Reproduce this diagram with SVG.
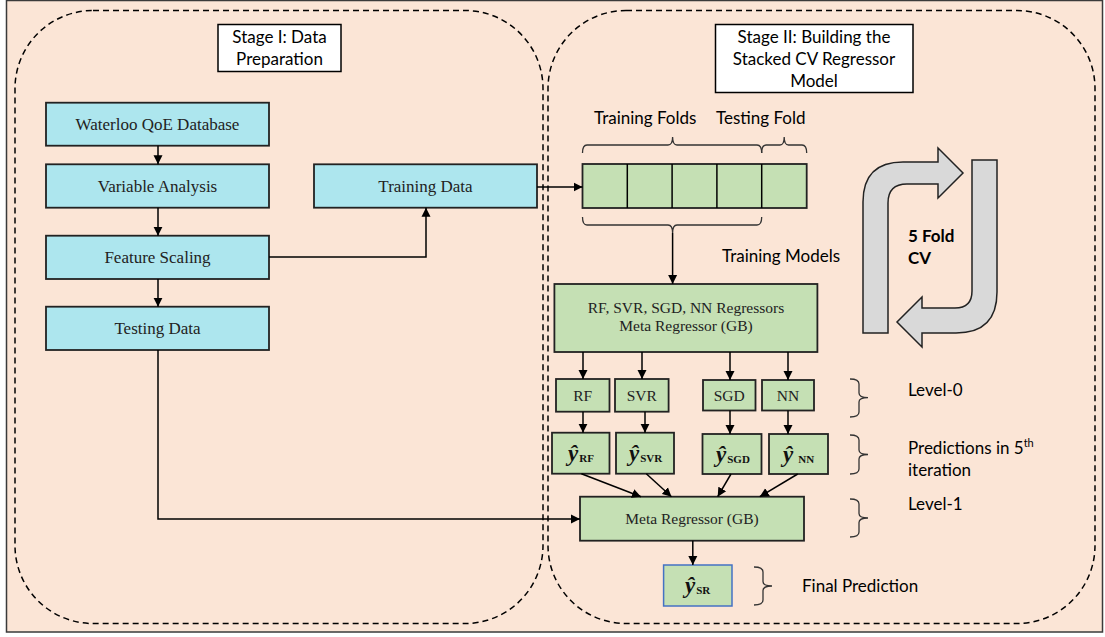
<svg xmlns="http://www.w3.org/2000/svg" width="1105" height="637" viewBox="0 0 1105 637">
<defs>
<marker id="ah" markerWidth="10" markerHeight="10" refX="9" refY="5" orient="auto" markerUnits="userSpaceOnUse">
<path d="M0,0.5 L9,5 L0,9.5 Z" fill="#000"/>
</marker>
<style>
.frame{fill:#FBE5D6;stroke:#3a3a3a;stroke-width:1.5}
.dash{fill:none;stroke:#000;stroke-width:1.5;stroke-dasharray:6,4}
.title{fill:#fff;stroke:#000;stroke-width:1.5}
.cyan{fill:#ADE6EE;stroke:#222;stroke-width:1.8}
.green{fill:#C5E0B4;stroke:#222;stroke-width:1.8}
.fin{fill:#C5E0B4;stroke:#4472C4;stroke-width:1.5}
.cal{font-family:Lato,"Open Sans","Liberation Sans",sans-serif;font-size:17px;fill:#000}
.ser{font-family:"Liberation Serif","DejaVu Serif",serif;font-size:17px;fill:#222}
.hat{font-family:"Liberation Serif","DejaVu Serif",serif;font-size:23px;font-weight:bold;font-style:italic;fill:#111}
.sub{font-size:11px;font-style:normal;font-weight:bold}
.con{fill:none;stroke:#000;stroke-width:1.5}
.arr{fill:none;stroke:#000;stroke-width:1.5;marker-end:url(#ah)}
.brace{fill:none;stroke:#333;stroke-width:1.3}
.big{fill:#D9D9D9;stroke:#222;stroke-width:1.5}
</style>
</defs>
<rect class="frame" x="6.5" y="0.5" width="1096" height="631.5"/>
<rect class="dash" x="15" y="10.5" width="528" height="613" rx="78" ry="78"/>
<rect class="dash" x="548" y="10.5" width="547" height="613" rx="78" ry="78"/>

<g id="stage1">
<rect class="title" x="218" y="24.5" width="123" height="47"/>
<text class="cal" x="279.5" y="43" text-anchor="middle">Stage I: Data</text>
<text class="cal" x="279.5" y="65" text-anchor="middle">Preparation</text>
</g>
<g id="stage2">
<rect class="title" x="715.5" y="24.5" width="197.5" height="68"/>
<text class="cal" x="814" y="43" text-anchor="middle">Stage II: Building the</text>
<text class="cal" x="814" y="65" text-anchor="middle">Stacked CV Regressor</text>
<text class="cal" x="814" y="87" text-anchor="middle">Model</text>
</g>

<g id="waterloo"><rect class="cyan" x="46" y="102.7" width="223" height="43"/><text class="ser" x="157.5" y="130" text-anchor="middle">Waterloo QoE Database</text></g>
<g id="variable"><rect class="cyan" x="46" y="164.3" width="223" height="43.4"/><text class="ser" x="157.5" y="192" text-anchor="middle">Variable Analysis</text></g>
<g id="feature"><rect class="cyan" x="46" y="235.7" width="223" height="43.3"/><text class="ser" x="157.5" y="263" text-anchor="middle">Feature Scaling</text></g>
<g id="testing"><rect class="cyan" x="46" y="306.7" width="223" height="43.3"/><text class="ser" x="157.5" y="334" text-anchor="middle">Testing Data</text></g>
<g id="training"><rect class="cyan" x="314" y="164.3" width="223" height="43.4"/><text class="ser" x="425.5" y="192" text-anchor="middle">Training Data</text></g>

<g id="folds">
<rect class="green" x="582.5" y="164" width="224.2" height="44"/>
<line class="con" x1="627.3" y1="164" x2="627.3" y2="208"/>
<line class="con" x1="672.1" y1="164" x2="672.1" y2="208"/>
<line class="con" x1="716.9" y1="164" x2="716.9" y2="208"/>
<line class="con" x1="761.7" y1="164" x2="761.7" y2="208"/>
<text class="cal" x="594" y="124">Training Folds</text>
<text class="cal" x="716" y="124">Testing Fold</text>
<path class="brace" d="M582.5,153 Q582.5,145 587,145 L668,145 Q672.6,145 672.6,137 Q672.6,145 677,145 L757,145 Q761.7,145 761.7,153"/>
<path class="brace" d="M761.7,153 Q761.7,145 766,145 L780,145 Q784.2,145 784.2,137 Q784.2,145 788.5,145 L802,145 Q806.7,145 806.7,153"/>
<path class="brace" d="M582.5,217 Q582.5,225 587,225 L668,225 Q672.6,225 672.6,233 Q672.6,225 677,225 L757,225 Q761.7,225 761.7,217"/>
<text class="cal" x="722" y="262">Training Models</text>
</g>

<g id="regressors"><rect class="green" x="554.4" y="284" width="263" height="68"/>
<text class="ser" x="686" y="313" text-anchor="middle" style="font-size:15.5px">RF, SVR, SGD, NN Regressors</text>
<text class="ser" x="686" y="331" text-anchor="middle" style="font-size:15.5px">Meta Regressor (GB)</text></g>

<g id="rf"><rect class="green" x="556" y="379" width="53.5" height="32.7"/><text class="ser" x="582.7" y="401" text-anchor="middle" style="font-size:15.5px">RF</text></g>
<g id="svr"><rect class="green" x="615" y="379" width="53.6" height="32.7"/><text class="ser" x="641.8" y="401" text-anchor="middle" style="font-size:15.5px">SVR</text></g>
<g id="sgd"><rect class="green" x="703" y="380" width="52.5" height="30.5"/><text class="ser" x="729.2" y="401" text-anchor="middle" style="font-size:15.5px">SGD</text></g>
<g id="nn"><rect class="green" x="762" y="380" width="52" height="30.5"/><text class="ser" x="788" y="401" text-anchor="middle" style="font-size:15.5px">NN</text></g>

<g id="yrf"><rect class="green" x="552" y="432.7" width="57.5" height="41"/><text class="hat" x="568" y="461">ŷ<tspan class="sub" dx="1" dy="1">RF</tspan></text></g>
<g id="ysvr"><rect class="green" x="616" y="432.7" width="58" height="41"/><text class="hat" x="629" y="461">ŷ<tspan class="sub" dx="1" dy="1">SVR</tspan></text></g>
<g id="ysgd"><rect class="green" x="702.5" y="434" width="59" height="40"/><text class="hat" x="716" y="462">ŷ<tspan class="sub" dx="1" dy="1">SGD</tspan></text></g>
<g id="ynn"><rect class="green" x="769" y="434" width="59" height="40"/><text class="hat" x="783" y="462">ŷ<tspan class="sub" dx="5" dy="1">NN</tspan></text></g>

<g id="meta"><rect class="green" x="580" y="496.7" width="224" height="44"/><text class="ser" x="692" y="524" text-anchor="middle" style="font-size:15.5px">Meta Regressor (GB)</text></g>
<g id="final"><rect class="fin" x="663.6" y="565" width="68.4" height="41"/><text class="hat" x="685" y="593">ŷ<tspan class="sub" dx="1" dy="1">SR</tspan></text></g>

<g id="labels">
<path class="brace" d="M850,379 Q859,379 859,384 L859,393 Q859,397.7 868,397.7 Q859,397.7 859,402 L859,412 Q859,417 850,417"/>
<text class="cal" x="908" y="396">Level-0</text>
<path class="brace" d="M850,435 Q859,435 859,440 L859,450 Q859,454.5 868,454.5 Q859,454.5 859,459 L859,469 Q859,474 850,474"/>
<text class="cal" x="908" y="454">Predictions in 5<tspan dy="-7" style="font-size:11px">th</tspan></text>
<text class="cal" x="908" y="476">iteration</text>
<path class="brace" d="M850,499 Q859,499 859,504 L859,513.5 Q859,518 868,518 Q859,518 859,522.5 L859,532 Q859,537 850,537"/>
<text class="cal" x="908" y="510">Level-1</text>
<path class="brace" d="M754,567 Q763,567 763,572 L763,581.5 Q763,586 772,586 Q763,586 763,590.5 L763,600 Q763,605 754,605"/>
<text class="cal" x="802" y="592">Final Prediction</text>
</g>

<g id="cv">
<path class="big" d="M863,333 L863,202 Q863,162 903,162 L938,162 L938,148 L963,173 L938,198 L938,184 L907,184 Q888,184 888,203 L888,333 Z"/>
<path class="big" d="M972,160 L997,160 L997,292 Q997,333 956,333 L922,333 L922,347 L897,322 L922,297 L922,308 L955,308 Q972,308 972,291 Z"/>
<text class="cal" x="908" y="242" style="font-weight:bold">5 Fold</text>
<text class="cal" x="908" y="264" style="font-weight:bold">CV</text>
</g>

<g id="connectors">
<line class="arr" x1="158" y1="145.7" x2="158" y2="164.3"/>
<line class="arr" x1="158" y1="207.7" x2="158" y2="235.7"/>
<line class="arr" x1="158" y1="279" x2="158" y2="306.7"/>
<polyline class="arr" points="269,257 426,257 426,207.7"/>
<line class="arr" x1="537" y1="187" x2="582.5" y2="187"/>
<polyline class="arr" points="158,350 158,519 580,519"/>
<line class="arr" x1="672.6" y1="233" x2="672.6" y2="284"/>
<line class="arr" x1="583" y1="352" x2="583" y2="379"/>
<line class="arr" x1="642" y1="352" x2="642" y2="379"/>
<line class="arr" x1="730" y1="352" x2="730" y2="380"/>
<line class="arr" x1="788" y1="352" x2="788" y2="380"/>
<line class="arr" x1="583" y1="411.7" x2="583" y2="432.7"/>
<line class="arr" x1="645" y1="411.7" x2="645" y2="432.7"/>
<line class="arr" x1="730" y1="410.5" x2="730" y2="434"/>
<line class="arr" x1="788" y1="410.5" x2="788" y2="434"/>
<line class="arr" x1="581.4" y1="473.7" x2="641" y2="496.7"/>
<line class="arr" x1="646.3" y1="473.7" x2="671.5" y2="496.7"/>
<line class="arr" x1="731" y1="474" x2="717.7" y2="496.7"/>
<line class="arr" x1="797.7" y1="474" x2="759.8" y2="496.7"/>
<line class="arr" x1="692.8" y1="540.7" x2="692.8" y2="565"/>
</g>
</svg>
